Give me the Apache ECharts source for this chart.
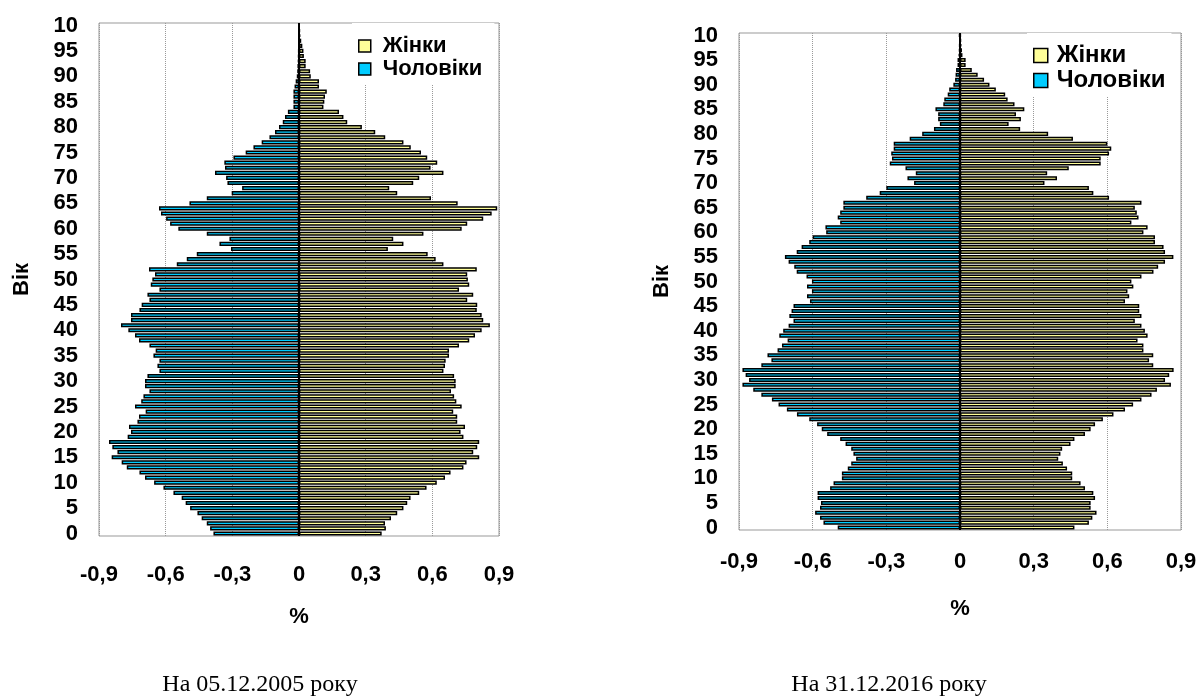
<!DOCTYPE html>
<html>
<head>
<meta charset="utf-8">
<script src="https://cdn.jsdelivr.net/npm/echarts@6/dist/echarts.min.js"></script>
<style>
  body { margin: 0; background: #fff; }
  #chart { width: 1200px; height: 697px; }
</style>
</head>
<body>
<div id="chart"></div>
<script type="text/javascript">
// ages 0..100, values in % of total population
var ages = [];
for (var a = 0; a <= 100; a++) ages.push(String(a));

// 05.12.2005
var women2005 = [0.372,0.391,0.387,0.414,0.442,0.47,0.487,0.502,0.541,0.574,
  0.62,0.657,0.682,0.74,0.754,0.811,0.784,0.802,0.811,0.74,
  0.727,0.747,0.712,0.712,0.694,0.732,0.708,0.698,0.684,0.705,
  0.705,0.698,0.65,0.657,0.66,0.675,0.675,0.72,0.766,0.792,
  0.822,0.859,0.829,0.822,0.8,0.802,0.757,0.784,0.72,0.766,
  0.76,0.757,0.8,0.65,0.615,0.579,0.4,0.47,0.424,0.56,
  0.732,0.757,0.829,0.867,0.892,0.714,0.594,0.442,0.406,0.514,
  0.541,0.65,0.592,0.622,0.577,0.549,0.503,0.47,0.388,0.343,
  0.283,0.217,0.2,0.18,0.11,0.114,0.117,0.125,0.09,0.09,
  0.053,0.05,0.03,0.03,0.022,0.02,0.015,0.01,0.006,0.004,0.002];
var men2005 = [0.385,0.4,0.415,0.438,0.457,0.49,0.51,0.528,0.565,0.61,
  0.652,0.693,0.718,0.775,0.798,0.843,0.817,0.84,0.855,0.771,
  0.756,0.765,0.727,0.72,0.69,0.738,0.71,0.7,0.673,0.693,
  0.693,0.682,0.628,0.637,0.628,0.655,0.645,0.673,0.72,0.738,
  0.768,0.801,0.756,0.756,0.718,0.708,0.673,0.682,0.628,0.667,
  0.66,0.648,0.675,0.55,0.505,0.46,0.306,0.358,0.313,0.415,
  0.543,0.58,0.598,0.621,0.63,0.493,0.415,0.303,0.256,0.322,
  0.328,0.378,0.333,0.336,0.295,0.24,0.205,0.168,0.133,0.108,
  0.09,0.073,0.063,0.05,0.025,0.025,0.025,0.025,0.02,0.015,
  0.01,0.008,0.007,0.005,0.004,0.003,0.002,0.002,0.001,0.001,0.001];

// 31.12.2016
var women2016 = [0.466,0.525,0.539,0.556,0.532,0.532,0.55,0.543,0.509,0.491,
  0.457,0.457,0.436,0.419,0.4,0.409,0.416,0.45,0.466,0.509,
  0.532,0.55,0.582,0.625,0.672,0.705,0.739,0.78,0.802,0.859,
  0.835,0.852,0.87,0.787,0.77,0.787,0.747,0.747,0.723,0.764,
  0.753,0.739,0.712,0.739,0.73,0.73,0.672,0.689,0.682,0.706,
  0.698,0.739,0.788,0.807,0.835,0.869,0.835,0.829,0.794,0.794,
  0.747,0.764,0.698,0.727,0.72,0.712,0.739,0.607,0.543,0.525,
  0.344,0.395,0.355,0.443,0.573,0.573,0.607,0.616,0.6,0.46,
  0.359,0.245,0.198,0.248,0.228,0.262,0.222,0.194,0.184,0.146,
  0.12,0.098,0.072,0.048,0.023,0.023,0.01,0.008,0.006,0.004,0.003];
var men2016 = [0.498,0.556,0.57,0.59,0.57,0.566,0.58,0.58,0.529,0.515,
  0.481,0.481,0.457,0.443,0.423,0.434,0.443,0.466,0.488,0.541,
  0.563,0.582,0.614,0.664,0.705,0.739,0.766,0.809,0.842,0.886,
  0.859,0.873,0.886,0.809,0.768,0.784,0.743,0.725,0.702,0.736,
  0.72,0.698,0.678,0.695,0.686,0.678,0.611,0.623,0.603,0.623,
  0.603,0.625,0.665,0.675,0.698,0.713,0.665,0.645,0.614,0.6,
  0.545,0.548,0.488,0.498,0.488,0.475,0.475,0.382,0.327,0.3,
  0.187,0.214,0.18,0.222,0.286,0.277,0.28,0.27,0.27,0.205,
  0.154,0.106,0.082,0.089,0.089,0.1,0.068,0.064,0.05,0.044,
  0.027,0.02,0.018,0.016,0.01,0.01,0.006,0.004,0.003,0.002,0.004];

var xTicks = { min: -0.9, max: 0.9, step: 0.3 };
var captions = ['На 05.12.2005 року', 'На 31.12.2016 року'];

var FONT = '"Liberation Sans", Arial, sans-serif';
var WOMEN_COLOR = '#FFFF99';
var MEN_COLOR = '#00CCFF';

function neg(arr) {
  return arr.map(function (v) { return -v; });
}
function pct(v) {
  if (Math.abs(v) < 1e-9) return '0';
  return v.toFixed(1).replace('.', ',');
}

function xAxisFor(idx, labelMargin, nameGap) {
  return {
    type: 'value', gridIndex: idx,
    min: xTicks.min, max: xTicks.max, interval: xTicks.step,
    name: '%', nameLocation: 'middle', nameGap: nameGap,
    nameTextStyle: { fontFamily: FONT, fontSize: 22, fontWeight: 'bold', color: '#000' },
    axisLine: { onZero: false, lineStyle: { color: '#000', width: 2 } },
    axisTick: { length: 8, lineStyle: { color: '#000', width: 2 } },
    axisLabel: { margin: labelMargin, formatter: pct, fontFamily: FONT, fontSize: 22, fontWeight: 'bold', color: '#000' },
    splitLine: { show: true, lineStyle: { color: '#999', type: 'dotted', width: 1 } }
  };
}

function yAxisFor(idx) {
  return {
    type: 'category', gridIndex: idx, data: ages,
    name: 'Вік', nameLocation: 'middle', nameRotate: 90, nameGap: 66,
    nameTextStyle: { fontFamily: FONT, fontSize: 22, fontWeight: 'bold', color: '#000' },
    axisLine: { show: false, onZero: false },
    axisTick: { show: false },
    axisLabel: {
      interval: 4, margin: 21,
      formatter: function (v) { return v === '100' ? '10' : v; },
      fontFamily: FONT, fontSize: 22, fontWeight: 'bold', color: '#000'
    },
    splitLine: { show: false }
  };
}

function barSeries(name, idx, data, color, withZeroLine) {
  var s = {
    name: name, type: 'bar',
    xAxisIndex: idx, yAxisIndex: idx,
    data: data,
    barGap: '-100%', barCategoryGap: '18%',
    itemStyle: { color: color, borderColor: '#000', borderWidth: 1.5 },
    emphasis: { disabled: true }
  };
  if (withZeroLine) {
    s.markLine = {
      silent: true, symbol: ['none', 'none'],
      label: { show: false },
      lineStyle: { color: '#000', width: 2, type: 'solid' },
      data: [{ xAxis: 0 }]
    };
  }
  return s;
}

var chart = echarts.init(document.getElementById('chart'));
chart.setOption({
  animation: false,
  backgroundColor: '#fff',
  grid: [
    { left: 99, right: 701, top: 23, bottom: 161, show: true, borderColor: '#999', borderWidth: 1 },
    { left: 739, right: 19, top: 33, bottom: 167, show: true, borderColor: '#999', borderWidth: 1 }
  ],
  xAxis: [xAxisFor(0, 28, 70), xAxisFor(1, 21, 68)],
  yAxis: [yAxisFor(0), yAxisFor(1)],
  legend: [
    {
      left: 352, top: 23, orient: 'vertical', backgroundColor: '#fff',
      padding: [12, 12, 4, 6], itemGap: 1, itemWidth: 12, itemHeight: 12, icon: 'rect',
      itemStyle: { borderColor: '#000', borderWidth: 1.5 },
      textStyle: { fontFamily: FONT, fontSize: 22, fontWeight: 'bold', color: '#000', lineHeight: 22, padding: [0, 0, 0, 7] },
      data: ['Жінки', 'Чоловіки']
    },
    {
      left: 1027, top: 33, orient: 'vertical', backgroundColor: '#fff',
      padding: [10, 6, 4, 6], itemGap: 0, itemWidth: 14, itemHeight: 14, icon: 'rect',
      itemStyle: { borderColor: '#000', borderWidth: 1.5 },
      textStyle: { fontFamily: FONT, fontSize: 24, fontWeight: 'bold', color: '#000', lineHeight: 25, padding: [0, 0, 0, 4] },
      data: ['Жінки', 'Чоловіки']
    }
  ],
  graphic: [
    { type: 'text', x: 260, y: 685, style: { text: captions[0], fill: '#000', font: '24px "Liberation Serif", "Times New Roman", serif', textAlign: 'center', textVerticalAlign: 'middle' } },
    { type: 'text', x: 889, y: 685, style: { text: captions[1], fill: '#000', font: '24px "Liberation Serif", "Times New Roman", serif', textAlign: 'center', textVerticalAlign: 'middle' } }
  ],
  series: [
    barSeries('Жінки', 0, women2005, WOMEN_COLOR, true),
    barSeries('Чоловіки', 0, neg(men2005), MEN_COLOR, false),
    barSeries('Жінки', 1, women2016, WOMEN_COLOR, true),
    barSeries('Чоловіки', 1, neg(men2016), MEN_COLOR, false)
  ]
});
</script>
</body>
</html>
